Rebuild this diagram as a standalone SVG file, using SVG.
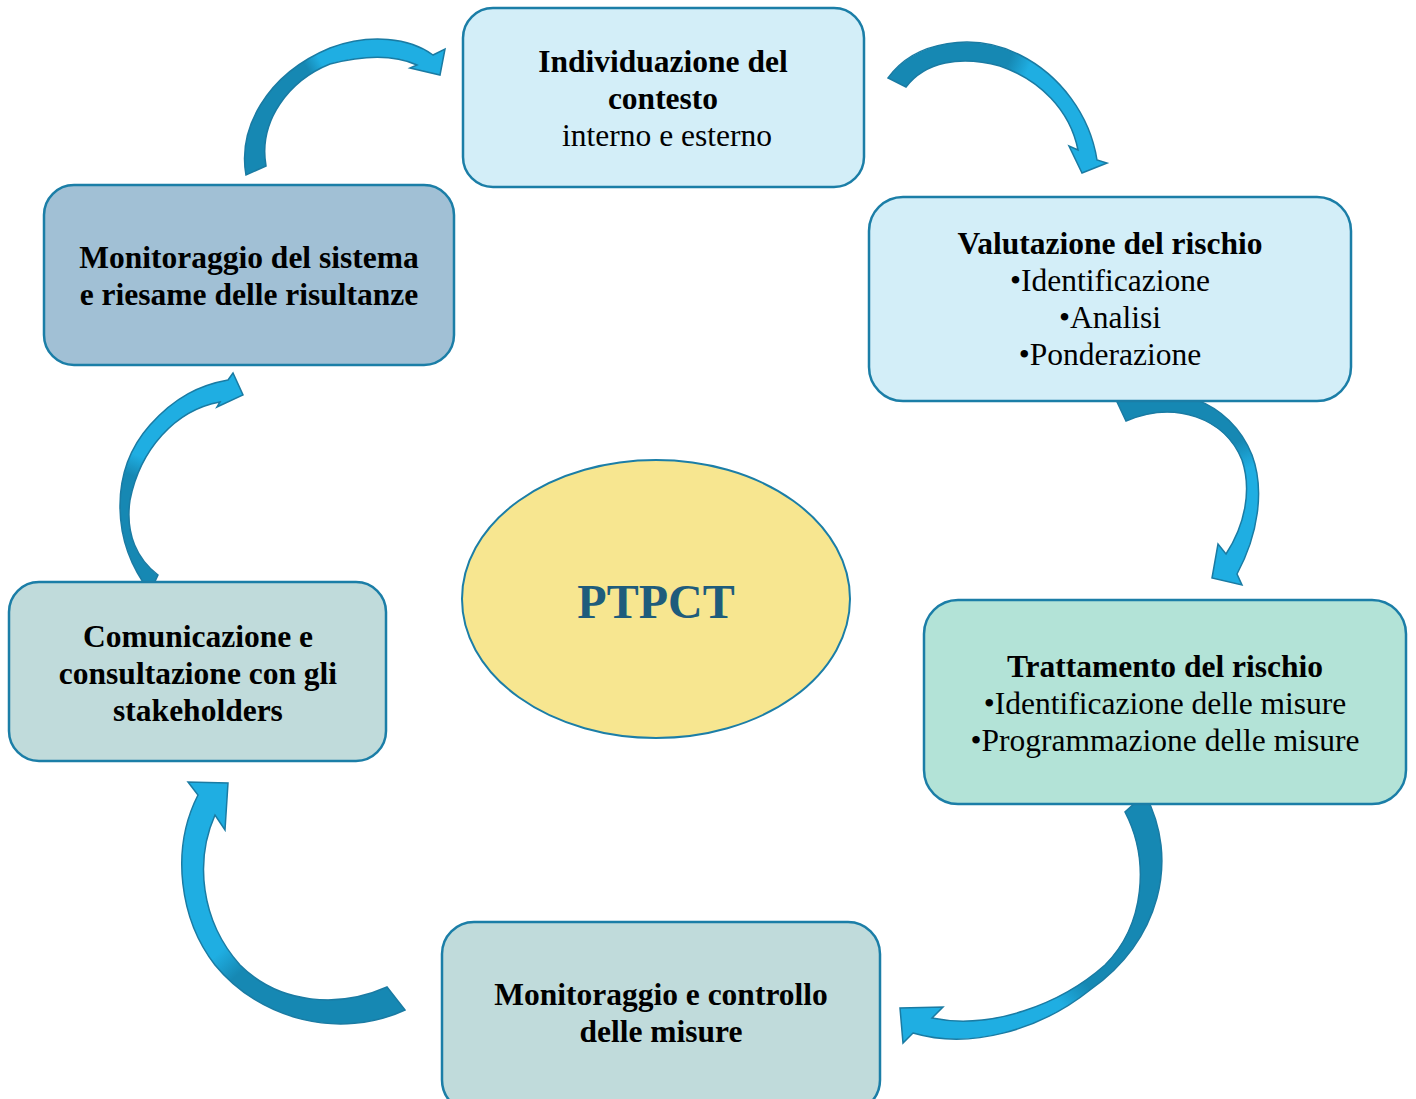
<svg xmlns="http://www.w3.org/2000/svg" width="1416" height="1099" viewBox="0 0 1416 1099">
<style>
.box{stroke:#1B7EA7;stroke-width:2.5}
.t{font-family:"Liberation Serif","Times New Roman",serif;font-size:31.5px;fill:#000;text-anchor:middle}
.b{font-weight:bold}
.arr{stroke:#1A7BA3;stroke-width:1.5;stroke-linejoin:miter}
</style>
<defs>
<linearGradient id="g1" gradientUnits="userSpaceOnUse" x1="255" y1="170" x2="440" y2="60"><stop offset="0.45" stop-color="#1688B3"/><stop offset="0.52" stop-color="#1FAEE2"/></linearGradient>
<linearGradient id="g2" gradientUnits="userSpaceOnUse" x1="897" y1="82" x2="1090" y2="165"><stop offset="0.45" stop-color="#1688B3"/><stop offset="0.55" stop-color="#1FAEE2"/></linearGradient>
<linearGradient id="g3" gradientUnits="userSpaceOnUse" x1="1150" y1="400" x2="1230" y2="570"><stop offset="0.4" stop-color="#1688B3"/><stop offset="0.55" stop-color="#1FAEE2"/></linearGradient>
<linearGradient id="g4" gradientUnits="userSpaceOnUse" x1="1140" y1="810" x2="910" y2="1030"><stop offset="0.5" stop-color="#1688B3"/><stop offset="0.6" stop-color="#1FAEE2"/></linearGradient>
<linearGradient id="g5" gradientUnits="userSpaceOnUse" x1="400" y1="1000" x2="205" y2="790"><stop offset="0.45" stop-color="#1688B3"/><stop offset="0.55" stop-color="#1FAEE2"/></linearGradient>
<linearGradient id="g6" gradientUnits="userSpaceOnUse" x1="155" y1="585" x2="230" y2="390"><stop offset="0.45" stop-color="#1688B3"/><stop offset="0.55" stop-color="#1FAEE2"/></linearGradient>
</defs>
<rect width="1416" height="1099" fill="#fff"/>

<g id="connectors">
<path class="arr" fill="url(#g1)" d="M246,175 C238,130 265,75 330,48 C370,33 410,38 433,55 L445,49 L440,75 L410,68 L417,65 C395,55 365,55 330,64 C290,80 258,120 266,166 Z"/>
<path class="arr" fill="url(#g2)" d="M888,78 C915,40 975,32 1020,55 C1060,75 1090,115 1097,160 L1107,163 L1082,173 L1069,146 L1078,150 C1070,110 1040,80 1000,66 C960,55 925,62 906,87 Z"/>
<path class="arr" fill="url(#g3)" d="M1117,402 C1170,380 1230,400 1252,455 C1265,490 1258,535 1237,574 L1242,585 L1212,578 L1218,544 L1226,554 C1245,525 1252,490 1242,460 C1225,418 1175,400 1126,421 Z"/>
<path class="arr" fill="url(#g4)" d="M1145,794 C1180,860 1160,940 1090,990 C1040,1030 970,1050 913,1033 L903,1043 L900,1008 L943,1007 L932,1018 C990,1030 1060,1005 1105,965 C1145,925 1150,860 1125,812 Z"/>
<path class="arr" fill="url(#g5)" d="M405,1010 C340,1040 260,1020 215,965 C180,920 170,850 198,795 L188,782 L228,783 L225,830 L215,815 C195,860 200,920 240,965 C280,1005 340,1008 387,987 Z"/>
<path class="arr" fill="url(#g6)" d="M150,592 C110,540 110,470 150,425 C175,397 200,385 228,380 L233,373 L243,395 L217,407 L220,402 C175,410 140,450 130,500 C125,535 138,560 158,575 Z"/>
</g>

<g id="node-contesto">
<rect class="box" x="463" y="8" width="401" height="179" rx="30" fill="#D3EEF8"/>
<text class="t b" x="663" y="72">Individuazione del</text>
<text class="t b" x="663" y="109">contesto</text>
<text class="t" x="667" y="146">interno e esterno</text>
</g>

<g id="node-valutazione">
<rect class="box" x="869" y="197" width="482" height="204" rx="34" fill="#D3EEF8"/>
<text class="t b" x="1110" y="254">Valutazione del rischio</text>
<text class="t" x="1110" y="291">•Identificazione</text>
<text class="t" x="1110" y="328">•Analisi</text>
<text class="t" x="1110" y="365">•Ponderazione</text>
</g>

<g id="node-trattamento">
<rect class="box" x="924" y="600" width="482" height="204" rx="34" fill="#B3E3D7"/>
<text class="t b" x="1165" y="677">Trattamento del rischio</text>
<text class="t" x="1165" y="714">•Identificazione delle misure</text>
<text class="t" x="1165" y="751">•Programmazione delle misure</text>
</g>

<g id="node-monitoraggio-misure">
<rect class="box" x="442" y="922" width="438" height="190" rx="32" fill="#C0DBDB"/>
<text class="t b" x="661" y="1005">Monitoraggio e controllo</text>
<text class="t b" x="661" y="1042">delle misure</text>
</g>

<g id="node-comunicazione">
<rect class="box" x="9" y="582" width="377" height="179" rx="30" fill="#C0DBDB"/>
<text class="t b" x="198" y="647">Comunicazione e</text>
<text class="t b" x="198" y="684">consultazione con gli</text>
<text class="t b" x="198" y="721">stakeholders</text>
</g>

<g id="node-monitoraggio-sistema">
<rect class="box" x="44" y="185" width="410" height="180" rx="30" fill="#A1C0D5"/>
<text class="t b" x="249" y="268">Monitoraggio del sistema</text>
<text class="t b" x="249" y="305">e riesame delle risultanze</text>
</g>

<g id="node-ptpct">
<ellipse cx="656" cy="599" rx="194" ry="139" fill="#F7E690" stroke="#1B7EA7" stroke-width="2"/>
<text x="656" y="618" font-family="Liberation Serif, Times New Roman, serif" font-size="48" font-weight="bold" fill="#1E5C7C" text-anchor="middle">PTPCT</text>
</g>
</svg>
